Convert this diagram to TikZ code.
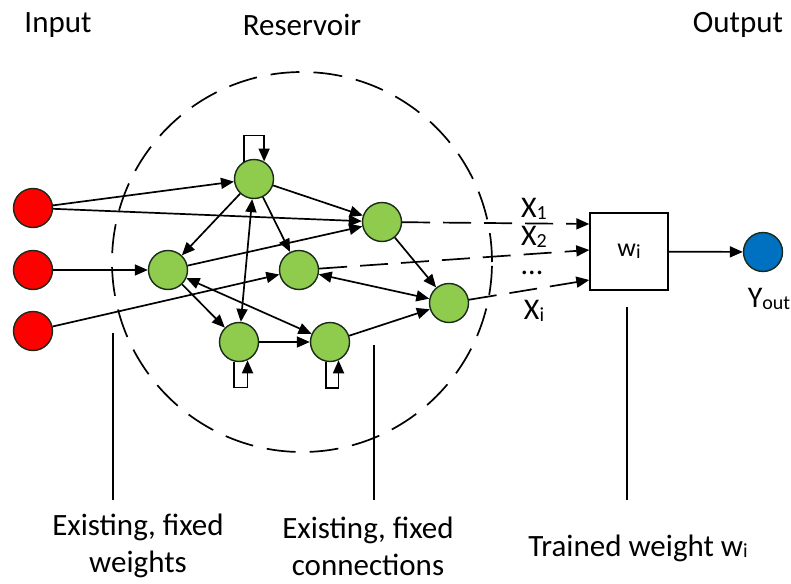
\documentclass[tikz,border=0pt]{standalone}
\usepackage{fontspec}
\setmainfont{Carlito}
\usetikzlibrary{arrows.meta}
\definecolor{inred}{HTML}{FF0000}
\definecolor{resgreen}{HTML}{8FCB4C}
\definecolor{outblue}{HTML}{0070C0}
\definecolor{rim}{HTML}{1A2A1A}
\newcommand{\smallsub}[1]{{\fontsize{20}{22}\selectfont\raisebox{-1.5pt}{#1}}}
\begin{document}
\begin{tikzpicture}[x=1pt,y=-1pt,
  neuron/.style={circle,draw=rim,line width=1.4pt,minimum size=39pt,inner sep=0pt},
  inneur/.style={neuron,fill=inred},
  resneur/.style={neuron,fill=resgreen},
  outneur/.style={neuron,fill=outblue},
  conn/.style={line width=1.7pt,-{Triangle[length=13pt,width=11pt]}},
  biconn/.style={line width=1.7pt,{Triangle[length=13pt,width=11pt]}-{Triangle[length=13pt,width=11pt]}},
  readout/.style={conn,dash pattern=on 28pt off 13pt},
  lbl/.style={font=\fontsize{31}{37}\selectfont,inner sep=0pt},
  xlbl/.style={font=\fontsize{30}{34}\selectfont,inner sep=0pt},
  pointer/.style={line width=1.4pt}
]
\useasboundingbox (0,0) rectangle (791,583);

% reservoir boundary
\node[circle,draw,line width=1.7pt,dash pattern=on 29pt off 14pt,minimum size=380pt,inner sep=0pt] (res) at (302,262) {};

% titles
\node[lbl] (tin) at (58,25) {Input};
\node[lbl] (tres) at (302,25) {Reservoir};
\node[lbl] (tout) at (738,25) {Output};

% input neurons
\node[inneur] (i1) at (33,208) {};
\node[inneur] (i2) at (33,270) {};
\node[inneur] (i3) at (33,331) {};

% reservoir neurons
\node[resneur] (a) at (254,179) {};
\node[resneur] (b) at (382,222) {};
\node[resneur] (c) at (168,270) {};
\node[resneur] (d) at (299,270) {};
\node[resneur] (e) at (449,303) {};
\node[resneur] (f) at (239,342) {};
\node[resneur] (g) at (330,342) {};

% readout box and output neuron
\node[draw,line width=1.4pt,minimum width=78pt,minimum height=77pt,inner sep=0pt,
      font=\fontsize{26}{28}\selectfont] (w) at (629,251.5) {w\smallsub{i}};
\node[outneur] (y) at (763,252) {};
\node[xlbl] (ylbl) at (769,299) {Y\smallsub{out}};

% input weights
\draw[conn] (i1) -- (a);
\draw[conn] (i1) -- (b);
\draw[conn] (i2) -- (c);
\draw[conn] (i3) -- (d);

% reservoir connections
\draw[conn] (a) -- (b);
\draw[conn] (a) -- (c);
\draw[conn] (a) -- (d);
\draw[biconn] (a) -- (f);
\draw[conn] (c) -- (b);
\draw[conn] (c) -- (f);
\draw[biconn] (c) -- (g);
\draw[biconn] (d) -- (e);
\draw[conn] (b) -- (e);
\draw[conn] (f) -- (g);
\draw[conn] (g) -- (e);

% self loops
\draw[conn] (a.120) -- ++(0,-26) -| (a.60);
\draw[conn] (f.255) -- ++(0,26) -| (f.295);
\draw[conn] (g.258) -- ++(0,26) -| (g.295);

% readouts
\draw[readout] (b) -- ([yshift=27.5pt]w.west);
\draw[readout] (d) -- ([yshift=1.5pt]w.west);
\draw[readout] (e) -- ([yshift=-28.5pt]w.west);
\draw[conn] (w) -- (y);

\node[xlbl] (x1) at (534,209) {X\smallsub{1}};
\node[xlbl] (x2) at (534,237) {X\smallsub{2}};
\node[xlbl] (xd) at (532,273) {...};
\node[xlbl] (xi) at (534,311) {X\smallsub{i}};

% bottom annotations
\node[lbl,align=center] (l1) at (138,546) {Existing, fixed\\weights};
\node[lbl,align=center] (l2) at (368,546) {Existing, fixed\\connections};
\node[lbl] (l3) at (638,548) {Trained weight w\smallsub{i}};

\coordinate (p1t) at (113,333);
\coordinate (p1b) at (113,500);
\coordinate (p2t) at (374,345);
\coordinate (p2b) at (374,500);
\coordinate (p3t) at (627,307);
\coordinate (p3b) at (627,500);
\draw[pointer] (p1t) -- (p1b);
\draw[pointer] (p2t) -- (p2b);
\draw[pointer] (p3t) -- (p3b);
\end{tikzpicture}
\end{document}
